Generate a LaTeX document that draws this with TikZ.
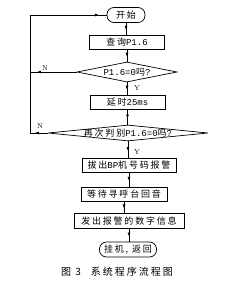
\documentclass[tikz,border=0pt]{standalone}
\usepackage{fontspec}
\newfontfamily\cjk[LetterSpace=20]{Noto Sans CJK SC}
\newfontfamily\lat{Liberation Mono}
\usetikzlibrary{shapes, arrows.meta, positioning, calc, decorations.markings}

\begin{document}
\begin{tikzpicture}[
  x=1pt, y=-1pt, line width=0.7pt,
  pbox/.style={draw, minimum height=14pt, inner sep=0pt, font=\cjk\fontsize{9}{10}\selectfont},
  tbox/.style={pbox, rounded corners=7pt},
  dbox/.style={draw, diamond, inner sep=0pt},
  yn/.style={font=\fontsize{7}{8}\selectfont},
  arrowat/.style={postaction={decorate}, decoration={markings, mark=at position #1 with {\arrow{Latex[length=4pt, width=3pt]}}}}
]
  \useasboundingbox (0,0) rectangle (245,289);
  \node[tbox, minimum width=38pt, minimum height=15pt] (start) at (126,15) {开始};
  \node[pbox, minimum width=75pt] (query) at (127,42) {查询{\lat P1.6}};
  \node[dbox, minimum width=100pt, minimum height=20pt, label={[font=\cjk\fontsize{9}{10}\selectfont]center:{\lat P1.6=0}吗{\lat ?}}] (chk1) at (127,72) {};
  \node[pbox, minimum width=75pt] (delay) at (127.5,102) {延时{\lat 25ms}};
  \node[dbox, minimum width=160pt, minimum height=16pt, label={[font=\cjk\fontsize{9}{10}\selectfont]center:再次判别{\lat P1.6=0}吗{\lat ?}}] (chk2) at (128,133) {};
  \node[pbox, minimum width=94pt] (pull) at (129,165) {拔出{\lat BP}机号码报警};
  \node[pbox, minimum width=86pt] (wait) at (124,194) {等待寻呼台回音};
  \node[pbox, minimum width=110pt, minimum height=15pt] (send) at (129,221) {发出报警的数字信息};
  \node[tbox, minimum width=57pt, minimum height=15pt] (stop) at (128,249.5) {挂机, 返回};
  \coordinate (lft) at (30,0);

  % main column
  \draw[arrowat=0.6] (start.south) -- (start.south |- query.north);
  \draw[arrowat=0.6] (query.south) -- (query.south |- chk1.north);
  \draw[arrowat=0.6] (chk1.south) -- (chk1.south |- delay.north);
  \draw[arrowat=0.6] (delay.south) -- (delay.south |- chk2.north);
  \draw[arrowat=0.6] (chk2.south) -- (chk2.south |- pull.north);
  \draw[arrowat=0.6] (pull.south) -- (pull.south |- wait.north);
  \draw[arrowat=0.6] (wait.south) -- (wait.south |- send.north);
  \draw[arrowat=0.6] (send.south) -- (send.south |- stop.north);

  % N branches back to start
  \draw[arrowat=0.85] (chk1.west) -- (chk1.west -| lft);
  \draw[arrowat=0.72] (chk2.west) -- (chk2.west -| lft);
  \draw (chk2.west -| lft) -- (lft |- start.west);
  \draw[arrowat=0.9] (lft |- start.west) -- (start.west);

  \node[yn] (n1) at (45,68) {N};
  \node[yn] (n2) at (40,126) {N};
  \node[yn] (y1) at (137,88) {Y};
  \node[yn] (y2) at (137,152) {Y};

  \node[font=\cjk\fontsize{10}{12}\selectfont] (cap) at (117,272) {图 3\quad 系统程序流程图};
\end{tikzpicture}
\end{document}
